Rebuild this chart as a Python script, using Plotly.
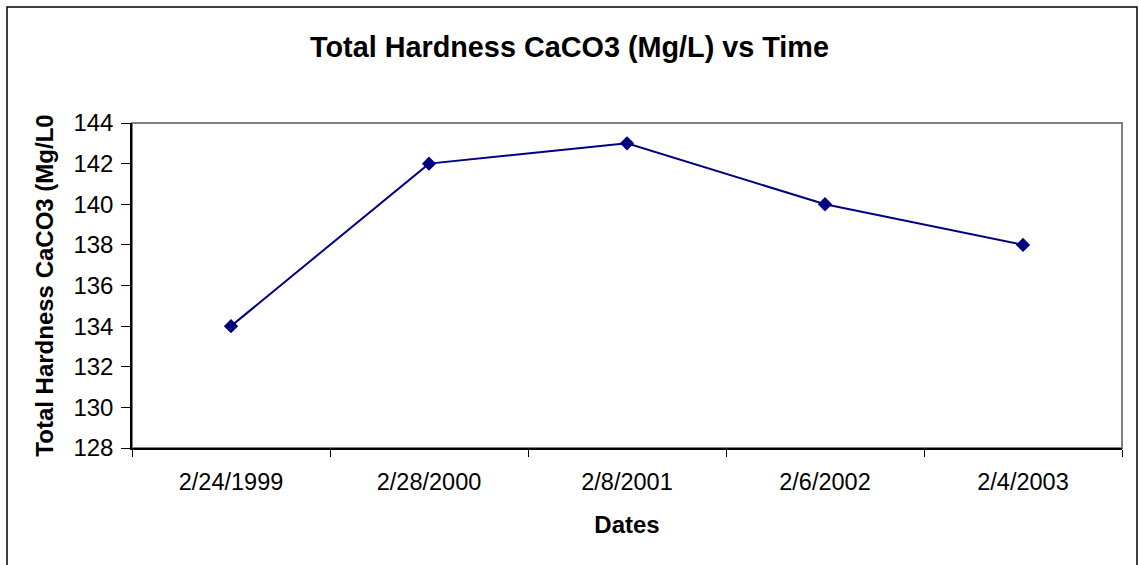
import plotly.graph_objects as go

dates = ["2/24/1999", "2/28/2000", "2/8/2001", "2/6/2002", "2/4/2003"]
hardness = [134, 142, 143, 140, 138]
y_ticks = [128, 130, 132, 134, 136, 138, 140, 142, 144]

W, H = 1139, 565
L, R, T, B = 132, 17, 123, 117
pw, ph = W - L - R, H - T - B

fig = go.Figure()
fig.add_trace(go.Scatter(
    x=dates, y=hardness, mode="lines+markers",
    line=dict(color="#000080", width=2),
    marker=dict(symbol="diamond", size=11, color="#000080"),
    showlegend=False,
))

font = "Liberation Sans, Arial, sans-serif"
fig.update_layout(
    width=W, height=H,
    margin=dict(l=L, r=R, t=T, b=B),
    paper_bgcolor="white", plot_bgcolor="white",
    font=dict(family=font, color="black", size=24),
    title=dict(text="<b>Total Hardness CaCO3 (Mg/L) vs Time</b>",
               x=0.5, xref="container", xanchor="center",
               y=1 - 47 / H, yref="container", yanchor="middle",
               font=dict(size=28.8, family=font, color="black")),
    xaxis=dict(type="category", range=[-0.5, 4.5], tickson="boundaries",
               ticks="outside", ticklen=7, tickcolor="black", tickwidth=1,
               ticklabelstandoff=12,
               showline=True, linecolor="black", linewidth=1.5,
               showgrid=False, zeroline=False,
               tickfont=dict(size=23.5),
               title=dict(text="<b>Dates</b>", font=dict(size=24), standoff=22)),
    yaxis=dict(range=[128, 144], tickvals=y_ticks,
               ticks="outside", ticklen=9, tickcolor="black", tickwidth=1,
               ticklabelstandoff=3,
               showline=True, linecolor="black", linewidth=1.5,
               showgrid=False, zeroline=False,
               tickfont=dict(size=24),
               title=dict(text="<b>Total Hardness CaCO3 (Mg/L0</b>", font=dict(size=24), standoff=13)),
    shapes=[
        dict(type="rect", xref="paper", yref="paper", x0=0, x1=1, y0=0, y1=1,
             line=dict(color="#808080", width=2), layer="below"),
        dict(type="rect", xref="paper", yref="paper",
             x0=(7 - L) / pw, x1=(1137 - L) / pw,
             y0=(H - B - 575) / ph, y1=(H - B - 7) / ph,
             line=dict(color="black", width=1.5), layer="below"),
    ],
)

fig.write_html("out.html", config={"displayModeBar": False},
               post_script="document.body.style.margin='0';document.body.style.overflow='hidden';")
